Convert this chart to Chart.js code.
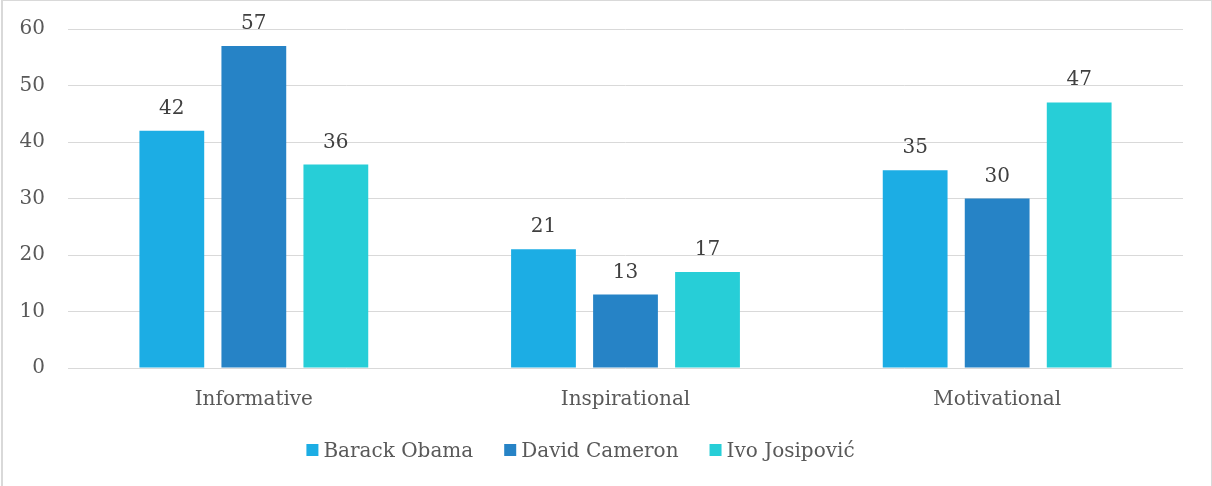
<!DOCTYPE html>
<html>
<head>
<meta charset="utf-8">
<script src="https://cdn.jsdelivr.net/npm/chart.js@4/dist/chart.umd.min.js"></script>
<style>
  html, body { margin: 0; padding: 0; background: #fff; }
  #wrap { position: relative; width: 1212px; height: 486px; }
  canvas { display: block; }
</style>
</head>
<body>
<div id="wrap"><canvas id="c" width="1212" height="486"></canvas></div>
<script>
// Speech style categories and scores per speaker
const categories = ['Informative', 'Inspirational', 'Motivational'];
const speakers = ['Barack Obama', 'David Cameron', 'Ivo Josipović'];
const obama = [42, 21, 35];
const cameron = [57, 13, 30];
const josipovic = [36, 17, 47];
const yTicks = [0, 10, 20, 30, 40, 50, 60];

const colors = ['#1CADE4', '#2683C6', '#27CED7'];
const FONT = 'DejaVu Serif';
const FONT_SIZE = 20;

// Value labels above each bar
const valueLabels = {
  id: 'valueLabels',
  afterDatasetsDraw(chart) {
    const ctx = chart.ctx;
    ctx.save();
    ctx.font = FONT_SIZE + 'px "' + FONT + '"';
    ctx.fillStyle = '#404040';
    ctx.textAlign = 'center';
    ctx.textBaseline = 'alphabetic';
    chart.data.datasets.forEach((ds, i) => {
      chart.getDatasetMeta(i).data.forEach((bar, j) => {
        ctx.fillText(String(ds.data[j]), bar.x, bar.y - 17);
      });
    });
    ctx.restore();
  }
};

// Outer frame and legend row
const frameAndLegend = {
  id: 'frameAndLegend',
  beforeDraw(chart) {
    const ctx = chart.ctx;
    ctx.save();
    ctx.fillStyle = '#fff';
    ctx.fillRect(0, 0, chart.width, chart.height);
    ctx.fillStyle = '#d9d9d9';
    ctx.fillRect(1, 0, 2, chart.height);      // left edge
    ctx.fillRect(1, 0, chart.width - 1, 1);   // top edge
    ctx.fillRect(chart.width - 1, 0, 1, chart.height); // right edge
    ctx.restore();
  },
  afterDraw(chart) {
    const ctx = chart.ctx;
    ctx.save();
    ctx.font = FONT_SIZE + 'px "' + FONT + '"';
    ctx.textBaseline = 'alphabetic';
    const box = 12, gapText = 5, gapItem = 31;
    const items = chart.data.datasets.map(ds => ({ label: ds.label, color: ds.backgroundColor, w: ctx.measureText(ds.label).width }));
    let total = 0;
    items.forEach((it, i) => { total += box + gapText + it.w + (i < items.length - 1 ? gapItem : 0); });
    let x = 580.5 - total / 2;
    items.forEach(it => {
      ctx.fillStyle = it.color;
      ctx.fillRect(x, 444, box, box);
      ctx.fillStyle = '#595959';
      ctx.fillText(it.label, x + box + gapText, 457);
      x += box + gapText + it.w + gapItem;
    });
    ctx.restore();
  }
};

const mk = (label, data, color) => ({
  label, data, backgroundColor: color, borderWidth: 0,
  categoryPercentage: 0.662, barPercentage: 0.79
});

new Chart(document.getElementById('c'), {
  type: 'bar',
  data: {
    labels: categories,
    datasets: [
      mk(speakers[0], obama, colors[0]),
      mk(speakers[1], cameron, colors[1]),
      mk(speakers[2], josipovic, colors[2])
    ]
  },
  options: {
    responsive: false,
    animation: false,
    devicePixelRatio: 1,
    layout: { padding: { top: 29, right: 29, bottom: 0, left: 0 } },
    plugins: { legend: { display: false }, tooltip: { enabled: false } },
    scales: {
      x: {
        grid: { display: false, drawTicks: false },
        border: { display: false },
        ticks: { color: '#595959', font: { family: FONT, size: FONT_SIZE }, padding: 20, maxRotation: 0 },
        afterFit(scale) { scale.height = 118; scale.paddingLeft = 0; scale.paddingRight = 0; }
      },
      y: {
        min: 0, max: 60,
        afterBuildTicks(scale) { scale.ticks = yTicks.map(v => ({ value: v })); },
        grid: { color: '#d9d9d9', lineWidth: 1, drawTicks: false },
        border: { display: false },
        ticks: { color: '#595959', font: { family: FONT, size: FONT_SIZE }, padding: 23 },
        afterFit(scale) { scale.width = 68; scale.paddingTop = 0; scale.paddingBottom = 0; }
      }
    }
  },
  plugins: [valueLabels, frameAndLegend]
});
</script>
</body>
</html>
